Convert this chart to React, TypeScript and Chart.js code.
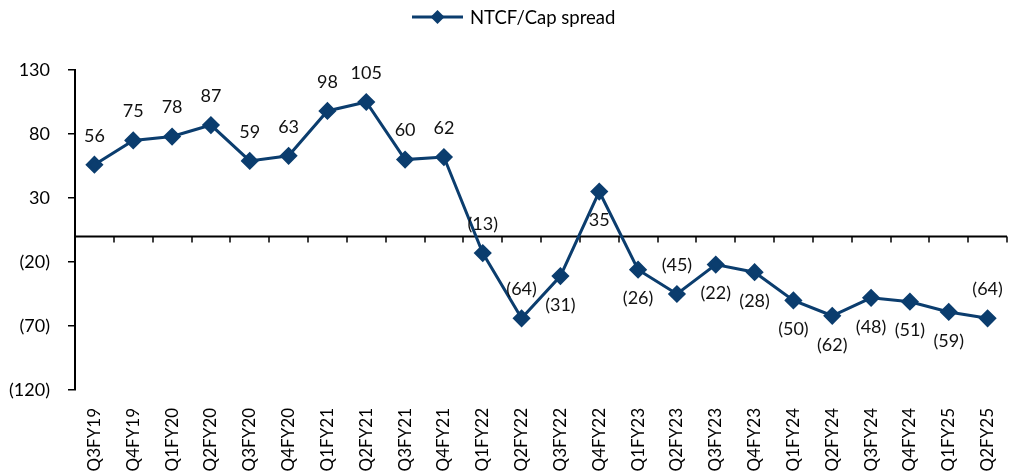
import React, { useEffect, useRef } from "react";
import { Chart, registerables } from "chart.js";

Chart.register(...registerables);

const categories = [
  "Q3FY19", "Q4FY19", "Q1FY20", "Q2FY20", "Q3FY20", "Q4FY20",
  "Q1FY21", "Q2FY21", "Q3FY21", "Q4FY21", "Q1FY22", "Q2FY22",
  "Q3FY22", "Q4FY22", "Q1FY23", "Q2FY23", "Q3FY23", "Q4FY23",
  "Q1FY24", "Q2FY24", "Q3FY24", "Q4FY24", "Q1FY25", "Q2FY25",
];

const spread = [
  56, 75, 78, 87, 59, 63,
  98, 105, 60, 62, -13, -64,
  -31, 35, -26, -45, -22, -28,
  -50, -62, -48, -51, -59, -64,
];

const labelPlacement = [
  "above", "above", "above", "above", "above", "above",
  "above", "above", "above", "above", "above", "above",
  "below", "below", "below", "above", "below", "below",
  "below", "below", "below", "below", "below", "above",
];

const seriesName = "NTCF/Cap spread";
const yMin = -120;
const yMax = 130;
const yStep = 50;

const NAVY = "#0B3D6E";
const FONT = "Lato, 'Noto Sans', sans-serif";

const fmt = (v: number) => (v < 0 ? `(${Math.abs(v)})` : `${v}`);

export default function App() {
  const ref = useRef<HTMLCanvasElement | null>(null);

  useEffect(() => {
    if (!ref.current) return;

    const decor = {
      id: "decor",
      beforeDatasetsDraw(chart: any) {
        const { ctx, chartArea, scales } = chart;
        const y0 = scales.y.getPixelForValue(0);
        ctx.save();
        ctx.strokeStyle = "#000";
        ctx.lineWidth = 2;
        ctx.beginPath();
        ctx.moveTo(chartArea.left, y0);
        ctx.lineTo(chartArea.right, y0);
        ctx.stroke();
        const n = categories.length;
        const w = (chartArea.right - chartArea.left) / n;
        ctx.lineWidth = 1.5;
        for (let i = 0; i <= n; i++) {
          const x = Math.round(chartArea.left + i * w);
          ctx.beginPath();
          ctx.moveTo(x, y0);
          ctx.lineTo(x, y0 + 6);
          ctx.stroke();
        }
        ctx.restore();
      },
      afterDatasetsDraw(chart: any) {
        const { ctx } = chart;
        const meta = chart.getDatasetMeta(0);
        ctx.save();
        ctx.font = `18px ${FONT}`;
        ctx.fillStyle = "#111";
        ctx.textAlign = "center";
        ctx.textBaseline = "middle";
        meta.data.forEach((pt: any, i: number) => {
          const dy = labelPlacement[i] === "above" ? -29 : 29;
          ctx.fillText(fmt(spread[i]), pt.x, pt.y + dy);
        });
        // legend
        const ly = 17;
        ctx.strokeStyle = NAVY;
        ctx.lineWidth = 3;
        ctx.beginPath();
        ctx.moveTo(412, ly);
        ctx.lineTo(463, ly);
        ctx.stroke();
        ctx.fillStyle = NAVY;
        ctx.beginPath();
        const cx = 437.5;
        const r = 7;
        ctx.moveTo(cx, ly - r);
        ctx.lineTo(cx + r, ly);
        ctx.lineTo(cx, ly + r);
        ctx.lineTo(cx - r, ly);
        ctx.closePath();
        ctx.fill();
        ctx.fillStyle = "#000";
        ctx.textAlign = "left";
        ctx.font = `18.5px ${FONT}`;
        ctx.fillText(seriesName, 470, ly + 1);
        ctx.restore();
      },
    };

    const chart = new Chart(ref.current, {
      type: "line",
      data: {
        labels: categories,
        datasets: [
          {
            label: seriesName,
            data: spread,
            borderColor: NAVY,
            backgroundColor: NAVY,
            borderWidth: 3,
            pointStyle: "rectRot",
            pointRadius: 7,
            pointHoverRadius: 7,
            pointBackgroundColor: NAVY,
            pointBorderColor: NAVY,
            tension: 0,
          },
        ],
      },
      options: {
        animation: false,
        responsive: false,
        maintainAspectRatio: false,
        layout: { padding: { top: 70, right: 15, left: 0, bottom: 0 } },
        plugins: {
          legend: { display: false },
          tooltip: { enabled: false },
        },
        scales: {
          x: {
            type: "category",
            offset: true,
            position: "bottom",
            border: { display: false },
            grid: { display: false },
            ticks: {
              autoSkip: false,
              minRotation: 90,
              maxRotation: 90,
              padding: 10,
              color: "#000",
              font: { family: FONT, size: 17 },
            },
            afterFit: (s: any) => {
              s.height = 83;
            },
          },
          y: {
            min: yMin,
            max: yMax,
            border: { display: true, color: "#000", width: 2 },
            grid: {
              drawOnChartArea: false,
              drawTicks: true,
              tickLength: 7,
              color: "#000",
              lineWidth: 1.5,
            },
            ticks: {
              stepSize: yStep,
              padding: 18,
              color: "#000",
              font: { family: FONT, size: 18 },
              callback: (v: any) => fmt(Number(v)),
            },
            afterFit: (s: any) => {
              s.width = 75;
            },
          },
        },
      },
      plugins: [decor],
    });

    return () => chart.destroy();
  }, []);

  return (
    <div style={{ position: "fixed", left: 0, top: 0, width: 1022, height: 473, background: "#fff" }}>
      <canvas ref={ref} width={1022} height={473} style={{ display: "block" }} />
    </div>
  );
}
